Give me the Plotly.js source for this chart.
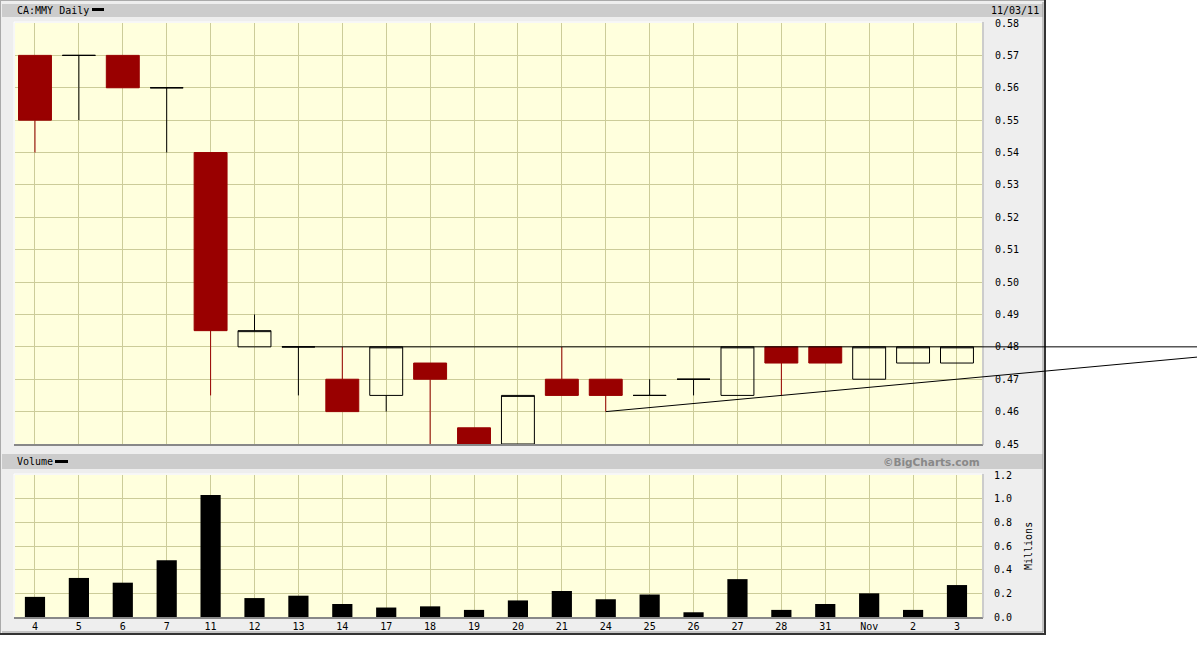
<!DOCTYPE html>
<html><head><meta charset="utf-8">
<script src="https://cdn.plot.ly/plotly-3.0.1.min.js"></script>
<style>html,body{margin:0;padding:0;background:#fff}#chart{width:1197px;height:668px}</style>
</head><body><div id="chart"></div>
<script>
// ---- data ----
const dates   = ['4','5','6','7','11','12','13','14','17','18','19','20','21','24','25','26','27','28','31','Nov','2','3'];
const opens   = [0.57,0.57,0.57,0.56,0.54,0.48,0.48,0.47,0.465,0.475,0.455,0.45,0.47,0.47,0.465,0.47,0.465,0.48,0.48,0.47,0.475,0.475];
const highs   = [0.57,0.57,0.57,0.56,0.54,0.49,0.48,0.48,0.48,0.475,0.455,0.465,0.48,0.47,0.47,0.47,0.48,0.48,0.48,0.48,0.48,0.48];
const lows    = [0.54,0.55,0.56,0.54,0.465,0.48,0.465,0.46,0.46,0.45,0.45,0.45,0.465,0.46,0.465,0.465,0.465,0.465,0.475,0.47,0.475,0.475];
const closes  = [0.55,0.57,0.56,0.56,0.485,0.485,0.48,0.46,0.48,0.47,0.45,0.465,0.465,0.465,0.465,0.47,0.48,0.475,0.475,0.48,0.48,0.48];
const volumes = [0.17,0.33,0.29,0.48,1.03,0.16,0.18,0.11,0.08,0.09,0.06,0.14,0.22,0.15,0.19,0.04,0.32,0.06,0.11,0.20,0.06,0.27];
const priceTicks  = [0.45,0.46,0.47,0.48,0.49,0.50,0.51,0.52,0.53,0.54,0.55,0.56,0.57,0.58];
const volumeTicks = [0.0,0.2,0.4,0.6,0.8,1.0,1.2];
const resistanceLevel = 0.48;      // horizontal line drawn from this session on
const resistanceFrom  = '13';
const supportFrom = '24', supportThrough = '28';   // rising line through these lows
const titleText = 'CA:MMY Daily', dateText = '11/03/11', volText = 'Volume', credit = '\u00A9BigCharts.com', unitText = 'Millions';

// ---- layout helpers (pixel -> paper) ----
const W = 1197, H = 668;
const PX = x => x / W, PY = y => 1 - y / H;
const plotL = 15, plotR = 982, priceT = 23, priceB = 444, volT = 475, volB = 617;
const xRange = [-0.455, 21.57];
const boxgap = 0.25;
const idx = dates.map((d, i) => i);

const RED = '#990000', BG = '#ffffdd', GRID = '#cccc99';
const mono = {family: 'DejaVu Sans Mono, monospace', size: 10, color: '#000'};

const down = idx.filter(i => closes[i] < opens[i]);
const up   = idx.filter(i => !(closes[i] < opens[i]));
const pick = (arr, sel) => sel.map(i => arr[i]);

function candle(sel, fill, line) {
  return {type: 'candlestick', x: sel, open: pick(opens, sel), high: pick(highs, sel), low: pick(lows, sel), close: pick(closes, sel),
    xaxis: 'x', yaxis: 'y', whiskerwidth: 0, hoverinfo: 'skip', showlegend: false,
    increasing: {fillcolor: fill, line: {color: line, width: 1}},
    decreasing: {fillcolor: fill, line: {color: line, width: 1}}};
}

const traces = [
  candle(up, 'rgba(0,0,0,0)', '#000'),
  candle(down, RED, RED),
  {type: 'bar', x: idx, y: volumes, xaxis: 'x2', yaxis: 'y2', width: 0.46, marker: {color: '#000', line: {width: 0}},
   hoverinfo: 'skip', showlegend: false}
];

const line = (x0, y0, x1, y1, color, width) => ({type: 'line', xref: 'paper', yref: 'paper', layer: 'below',
  x0: PX(x0), y0: PY(y0), x1: PX(x1), y1: PY(y1), line: {color: color, width: width}});
const rect = (x0, y0, x1, y1, color) => ({type: 'rect', xref: 'paper', yref: 'paper', layer: 'below',
  x0: PX(x0), y0: PY(y0), x1: PX(x1), y1: PY(y1), fillcolor: color, line: {width: 0}});

const shapes = [
  rect(0, 0, 1045, 634, '#eeeeee'),
  rect(2, 4, 1043, 17, '#cccccc'),
  rect(2, 454, 1043, 469, '#cccccc'),
  rect(plotL, priceT, plotR, priceB, BG),
  rect(plotL, volT, plotR, volB, BG),
  line(0, 0.5, 1045, 0.5, '#aaaaaa', 1),
  line(0.5, 0, 0.5, 634, '#aaaaaa', 1),
  line(1045, 0, 1045, 635, '#333333', 2),
  line(0, 634, 1046, 634, '#333333', 2),
  line(1043, 2, 1043, 632, '#999999', 1),
  line(2, 632, 1043, 632, '#999999', 1),
  // plot frames
  line(plotL - 1, priceT - 1, plotR, priceT - 1, '#ffffff', 1),
  line(plotL - 1, priceT - 1, plotL - 1, priceB, '#ffffff', 1),
  line(plotL - 1, priceB + 1, plotR + 1, priceB + 1, '#888888', 2),
  line(plotR + 1, priceT - 1, plotR + 1, priceB + 1, '#aaaaaa', 1),
  line(plotL - 1, volT - 1, plotR, volT - 1, '#ffffff', 1),
  line(plotL - 1, volT - 1, plotL - 1, volB, '#ffffff', 1),
  line(plotL - 1, volB + 1, plotR + 1, volB + 1, '#888888', 2),
  line(plotR + 1, volT - 1, plotR + 1, volB + 1, '#aaaaaa', 1),
  // legend swatches
  rect(92, 8, 104, 11, '#000000'),
  rect(55, 460, 68, 463, '#000000')
];

const ann = (text, x, y, xanchor, font, extra) => Object.assign({text: text, xref: 'paper', yref: 'paper', x: PX(x), y: PY(y),
  xanchor: xanchor, yanchor: 'middle', showarrow: false, font: font}, extra || {});

const layout = {
  width: W, height: H, margin: {l: 0, r: 0, t: 0, b: 0}, paper_bgcolor: '#ffffff', plot_bgcolor: 'rgba(0,0,0,0)',
  showlegend: false, boxgap: boxgap, boxgroupgap: 0, dragmode: false, hovermode: false,
  xaxis: {domain: [PX(plotL), PX(plotR)], range: xRange, anchor: 'y', tickvals: idx, showticklabels: false, ticks: '',
    showgrid: true, gridcolor: GRID, gridwidth: 1, zeroline: false, showline: false, rangeslider: {visible: false}, fixedrange: true},
  yaxis: {domain: [PY(priceB), PY(priceT)], range: [priceTicks[0], priceTicks[priceTicks.length - 1]], anchor: 'x', side: 'right',
    tickvals: priceTicks, tickformat: '.2f', ticks: '', ticklabelstandoff: 12, tickfont: mono,
    showgrid: true, gridcolor: GRID, gridwidth: 1, zeroline: false, showline: false, fixedrange: true},
  xaxis2: {domain: [PX(plotL), PX(plotR)], range: xRange, anchor: 'y2', matches: 'x', tickvals: idx, ticktext: dates, ticks: '',
    tickfont: mono, ticklabelstandoff: 2, showgrid: true, gridcolor: GRID, gridwidth: 1, zeroline: false, showline: false, fixedrange: true},
  yaxis2: {domain: [PY(volB), PY(volT)], range: [volumeTicks[0], volumeTicks[volumeTicks.length - 1]], anchor: 'x2', side: 'right',
    tickvals: volumeTicks, tickformat: '.1f', ticks: '', ticklabelstandoff: 11, tickfont: mono,
    showgrid: true, gridcolor: GRID, gridwidth: 1, zeroline: false, showline: false, fixedrange: true},
  shapes: shapes,
  annotations: [
    ann(titleText, 15, 10.5, 'left', mono),
    ann(dateText, 1041, 10.5, 'right', mono),
    ann(volText, 15, 461.5, 'left', mono),
    ann(credit, 982, 461.5, 'right', {family: 'DejaVu Sans, sans-serif', size: 10.5, color: '#888888', weight: 'bold'}),
    ann(unitText, 1028, (volT + volB) / 2, 'center', mono, {textangle: -90})
  ]
};

const gd = document.getElementById('chart');
Plotly.newPlot(gd, traces, layout, {staticPlot: true, displayModeBar: false}).then(() => {
  // trend lines run on past the plot to the page edge: x via the axis scale -> paper, y in data units
  const xa = gd._fullLayout.xaxis;
  const toPaper = v => (xa._offset + xa.l2p(v)) / W;
  const xEnd = xa.p2l(W - xa._offset);              // data position of the page edge
  const rs = dates.indexOf(resistanceFrom) - (1 - boxgap) / 2;
  const s1 = dates.indexOf(supportFrom), s2 = dates.indexOf(supportThrough);
  const slope = (lows[s2] - lows[s1]) / (s2 - s1);
  const trend = [
    {type: 'line', xref: 'paper', yref: 'y', layer: 'above', x0: toPaper(rs), x1: 1, y0: resistanceLevel, y1: resistanceLevel,
     line: {color: '#000', width: 1}},
    {type: 'line', xref: 'paper', yref: 'y', layer: 'above', x0: toPaper(s1), x1: 1, y0: lows[s1], y1: lows[s1] + slope * (xEnd - s1),
     line: {color: '#000', width: 1}}
  ];
  return Plotly.relayout(gd, {shapes: shapes.concat(trend)});
});
</script></body></html>
